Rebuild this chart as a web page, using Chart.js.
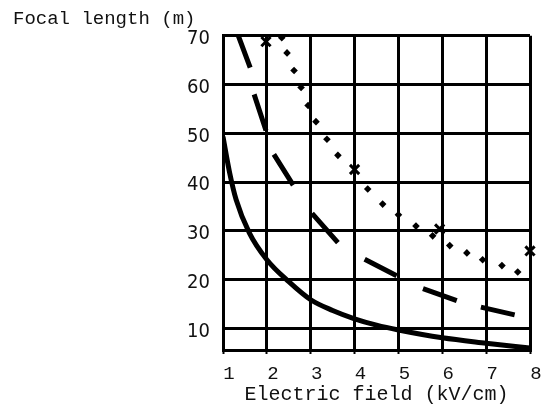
<!DOCTYPE html>
<html>
<head>
<meta charset="utf-8">
<script src="https://cdn.jsdelivr.net/npm/chart.js@4.4.1/dist/chart.umd.min.js"></script>
<style>
html, body { margin: 0; padding: 0; background: #fff; }
</style>
</head>
<body>
<canvas id="chart" width="541" height="405"></canvas>
<script>
// solid curve
const fieldSolid = [1, 1.15, 1.3, 1.6, 2, 2.5, 3, 3.5, 4, 4.5, 5, 6, 7, 8]
const focalSolid = [49.3, 42, 36.4, 29.6, 24.1, 19.6, 15.9, 13.7, 12.0, 10.7, 9.7, 8.1, 7.0, 6.0]

// dashed pieces, read as start/end pairs
const fieldDash = [1.35, 1.62, 1.71, 1.98, 2.16, 2.6, 3.03, 3.62, 4.23, 4.96, 5.56, 6.33, 6.88, 7.65]
const focalDash = [70, 63.5, 58, 50.6, 45.7, 39.4, 33.6, 27.6, 24.2, 20.8, 18.2, 15.7, 14.4, 12.8]

// dotted series
const fieldDot = [2.34, 2.46, 2.62, 2.78, 2.94, 3.12, 3.37, 3.62, 4.3, 4.64, 5.0, 5.4, 5.78, 6.17, 6.56, 6.92, 7.36, 7.72]
const focalDot = [69.6, 66.5, 62.9, 59.4, 55.7, 52.4, 48.8, 45.5, 38.6, 35.5, 33.3, 31, 29, 27, 25.5, 24.1, 22.9, 21.6]

// measured points (crosses)
const fieldCross = [1.98, 4.0, 5.94, 8.0]
const focalCross = [68.8, 42.6, 30.4, 25.9]

const xTicks = [1, 2, 3, 4, 5, 6, 7, 8]
const yTicks = [10, 20, 30, 40, 50, 60, 70]

const toPoints = (xs, ys) => xs.map((x, i) => ({x: x, y: ys[i]}))

var dashPoints = []
for (let i = 0; i < fieldDash.length; i += 2) {
    if (i > 0) dashPoints.push({x: (fieldDash[i - 1] + fieldDash[i]) / 2, y: null})
    dashPoints.push({x: fieldDash[i], y: focalDash[i]})
    dashPoints.push({x: fieldDash[i + 1], y: focalDash[i + 1]})
}

const mono = "'Liberation Mono', 'Courier New', monospace"

const chart = new Chart("chart", {
    type: "scatter",
    data: {
        datasets: [
            {
                data: toPoints(fieldSolid, focalSolid),
                showLine: true,
                borderColor: "#000",
                borderWidth: 5,
                pointRadius: 0,
                cubicInterpolationMode: "monotone"
            },
            {
                data: dashPoints,
                showLine: true,
                spanGaps: false,
                borderColor: "#000",
                borderWidth: 5,
                pointRadius: 0
            },
            {
                data: toPoints(fieldDot, focalDot),
                showLine: false,
                pointStyle: "rectRot",
                pointRadius: 3.8,
                backgroundColor: "#000",
                borderColor: "#000",
                borderWidth: 0
            },
            {
                data: toPoints(fieldCross, focalCross),
                showLine: false,
                pointStyle: "crossRot",
                pointRadius: 6.5,
                borderColor: "#000",
                borderWidth: 3,
                clip: false
            }
        ]
    },
    options: {
        responsive: false,
        animation: false,
        devicePixelRatio: 1,
        layout: {padding: {left: 13, right: 11, top: 0, bottom: 0}},
        plugins: {
            legend: {display: false},
            tooltip: {enabled: false},
            title: {
                display: true,
                text: "Focal length (m)",
                align: "start",
                color: "#111",
                font: {family: mono, size: 19, weight: "normal"},
                padding: {top: 8, bottom: 5}
            }
        },
        scales: {
            x: {
                type: "linear",
                min: 1,
                max: 8,
                afterBuildTicks: (axis) => { axis.ticks = xTicks.map(v => ({value: v})) },
                afterFit: (axis) => {
                    axis.height = 55
                    axis.paddingLeft = 0
                    axis.paddingRight = 0
                },
                ticks: {
                    color: "#111",
                    font: {family: mono, size: 19},
                    labelOffset: 6,
                    padding: 9,
                    maxRotation: 0
                },
                grid: {color: "#000", lineWidth: 3, tickLength: 4, tickColor: "#000", tickWidth: 2},
                border: {color: "#000", width: 3},
                title: {
                    display: true,
                    text: "Electric field (kV/cm)",
                    color: "#111",
                    font: {family: mono, size: 20, lineHeight: 1},
                    padding: {top: 0, bottom: 0}
                }
            },
            y: {
                type: "linear",
                min: 5.6,
                max: 70,
                afterBuildTicks: (axis) => { axis.ticks = yTicks.map(v => ({value: v})) },
                afterFit: (axis) => { axis.width = 210 },
                ticks: {
                    color: "#111",
                    font: {family: "'Liberation Sans Narrow', 'DejaVu Sans Condensed', sans-serif", size: 20, lineHeight: 1},
                    labelOffset: 3,
                    padding: 13
                },
                grid: {color: "#000", lineWidth: 3, drawTicks: false},
                border: {color: "#000", width: 3}
            }
        }
    }
})
</script>
</body>
</html>
